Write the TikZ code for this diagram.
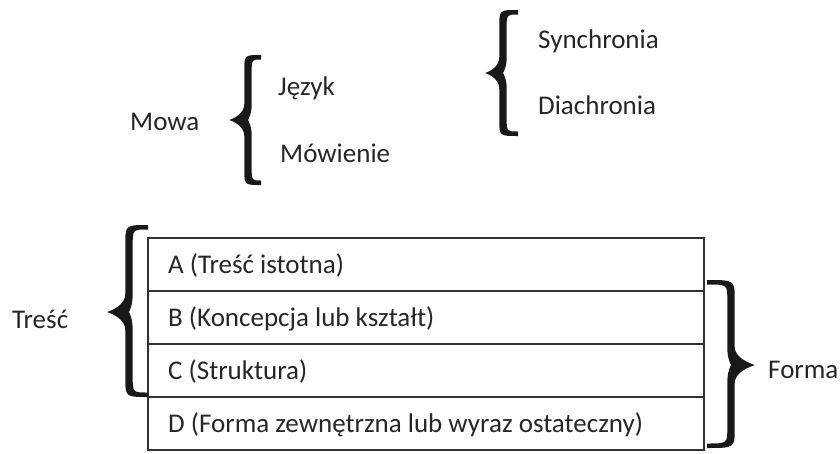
\documentclass[tikz,border=0pt]{standalone}
\usepackage{fontspec}
\setmainfont{Carlito}
\tikzset{
  bracefill/.style={fill=black!90, draw=none},
  rowbox/.style={draw=black!80, line width=1.8pt, minimum width=556pt, minimum height=53pt, inner sep=0pt, anchor=north west},
  lbl/.style={anchor=base west, inner sep=0pt, text=black!85, font=\fontsize{27}{30}\selectfont}
}
% #1 tip x, #2 stem x, #3 end x, #4 top y, #5 middle y, #6 bottom y,
% #7 side (1: tip on the left, -1: tip on the right), #8 end radius, #9 middle radius
\newcommand{\mybrace}[9]{%
  \fill[bracefill]
    ({#3},{#4}) .. controls ({#2-3.7*#7},{#4}) .. ({#2-3.7*#7},{#4+#8})
    -- ({#2-3.7*#7},{#5-#9})
    .. controls ({#2-3.7*#7},{#5-0.4*#9}) and ({#1+5*#7},{#5-1.5}) .. ({#1},{#5})
    .. controls ({#1+5*#7},{#5+1.5}) and ({#2-3.7*#7},{#5+0.4*#9}) .. ({#2-3.7*#7},{#5+#9})
    -- ({#2-3.7*#7},{#6-#8}) .. controls ({#2-3.7*#7},{#6}) .. ({#3},{#6})
    -- ({#3},{#6-4.5}) .. controls ({#2+3.7*#7},{#6-4.5}) .. ({#2+3.7*#7},{#6-#8})
    -- ({#2+3.7*#7},{#5+#9})
    .. controls ({#2+3.7*#7},{#5+0.4*#9}) and ({#2+1*#7},{#5+2}) .. ({#2},{#5})
    .. controls ({#2+1*#7},{#5-2}) and ({#2+3.7*#7},{#5-0.4*#9}) .. ({#2+3.7*#7},{#5-#9})
    -- ({#2+3.7*#7},{#4+#8}) .. controls ({#2+3.7*#7},{#4+4.5}) .. ({#3},{#4+4.5}) -- cycle;}
\begin{document}
\begin{tikzpicture}[x=1pt,y=-1pt]
\useasboundingbox (0,0) rectangle (840,453);
% top-left group
\node[lbl] (mowa) at (130,130) {Mowa};
\node[lbl] (jezyk) at (278,95) {Język};
\node[lbl] (mowienie) at (280,162) {Mówienie};
\mybrace{229}{248}{261}{55}{120}{185}{1}{16}{16}
% top-right group
\node[lbl] (sync) at (538,48) {Synchronia};
\node[lbl] (diach) at (538,114) {Diachronia};
\mybrace{485}{503}{518}{10}{73}{136}{1}{16}{16}
% table
\node[rowbox] (rowA) at (147,237) {};
\node[rowbox] (rowB) at (147,290) {};
\node[rowbox] (rowC) at (147,343) {};
\node[rowbox] (rowD) at (147,396) {};
\node[lbl] (tA) at ([xshift=21pt,yshift=-9.5pt]rowA.west) {A (Treść istotna)};
\node[lbl] (tB) at ([xshift=21pt,yshift=-9.5pt]rowB.west) {B (Koncepcja lub kształt)};
\node[lbl] (tC) at ([xshift=21pt,yshift=-9.5pt]rowC.west) {C (Struktura)};
\node[lbl] (tD) at ([xshift=21pt,yshift=-9.5pt]rowD.west) {D (Forma zewnętrzna lub wyraz ostateczny)};
% Treść brace
\node[lbl] (tresc) at (12,328) {Treść};
\mybrace{107}{129}{148}{225}{312}{397}{1}{20}{18}
% Forma brace
\node[lbl] (forma) at (768,378) {Forma};
\mybrace{755}{731}{707}{280}{365}{448}{-1}{20}{18}
\end{tikzpicture}
\end{document}
